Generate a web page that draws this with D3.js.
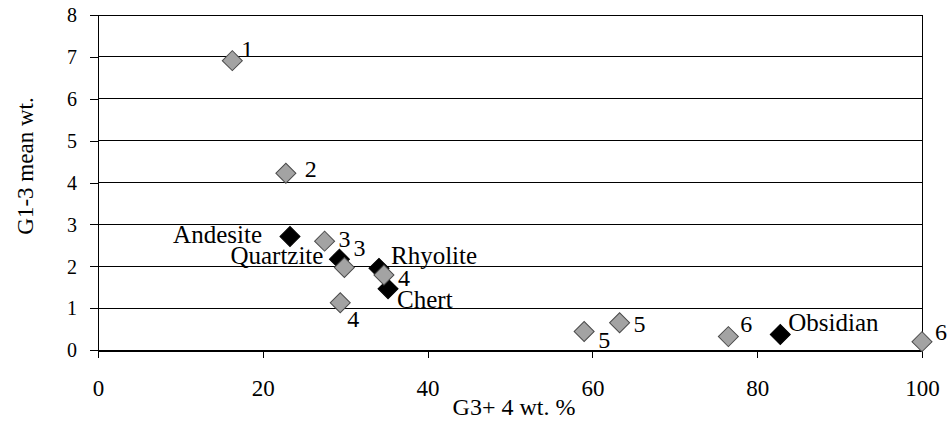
<!DOCTYPE html>
<html>
<head>
<meta charset="UTF-8" />
<title>G1-3 mean wt. vs G3+4 wt. %</title>
<style>
	html, body { margin: 0; padding: 0; background: #fff; overflow: hidden; }
	.grid line { stroke: #000; stroke-width: 1; shape-rendering: crispEdges; }
	.axis path, .axis line { stroke: #000; shape-rendering: crispEdges; }
</style>
<script src="https://d3js.org/d3.v7.min.js"></script>
</head>
<body>
<svg id="chart"></svg>
<script>
// grain-size class points (grey)
const grainLabels = ['1', '2', '3', '3', '4', '4', '5', '5', '6', '6'];
const grainX = [16.3, 22.8, 27.5, 29.9, 34.7, 29.4, 59.0, 63.3, 76.5, 100];
const grainY = [6.91, 4.22, 2.60, 1.97, 1.79, 1.13, 0.44, 0.65, 0.32, 0.20];

// raw material points (black)
const rockNames = ['Andesite', 'Quartzite', 'Rhyolite', 'Chert', 'Obsidian'];
const rockX = [23.3, 29.3, 34.1, 35.2, 82.8];
const rockY = [2.71, 2.17, 1.95, 1.46, 0.37];

const xTicks = [0, 20, 40, 60, 80, 100];
const yTicks = [0, 1, 2, 3, 4, 5, 6, 7, 8];

// label nudges (pixels), kept apart from the data
const grainLabelPos = [[9, -4], [19, 4], [14, 6], [9, -12], [14, 11], [7, 24], [14, 16], [14, 9], [12, -5], [13, -2]];
const rockLabelPos = [[-28, 6, 'end'], [-16, 5, 'end'], [12, -4, 'start'], [9, 19, 'start'], [8, -4, 'start']];

const FONT = 'Liberation Serif';

const width = 950, height = 423;
const margin = {top: 15, right: 28, bottom: 73, left: 98};

const svg = d3.select('#chart').attr('width', width).attr('height', height);

const x = d3.scaleLinear().domain([0, 100]).range([margin.left, width - margin.right]);
const y = d3.scaleLinear().domain([0, 8]).range([height - margin.bottom, margin.top]);

// horizontal gridlines + right border
svg.append('g').attr('class', 'grid')
	.selectAll('line').data(yTicks.slice(1)).enter().append('line')
	.attr('x1', x(0)).attr('x2', x(100))
	.attr('y1', d => y(d)).attr('y2', d => y(d));
svg.append('g').attr('class', 'grid').append('line')
	.attr('x1', x(100)).attr('x2', x(100))
	.attr('y1', y(8)).attr('y2', y(0));

// axes
const xAxis = svg.append('g').attr('class', 'axis')
	.attr('transform', `translate(0,${y(0)})`)
	.call(d3.axisBottom(x).tickValues(xTicks).tickSize(8).tickSizeOuter(0));
xAxis.select('.domain').attr('stroke-width', 2);
xAxis.selectAll('text')
	.style('font-family', FONT).style('font-size', '23px')
	.attr('dy', 0).attr('y', 46);

const yAxis = svg.append('g').attr('class', 'axis')
	.attr('transform', `translate(${x(0)},0)`)
	.call(d3.axisLeft(y).tickValues(yTicks).tickSize(8).tickSizeOuter(0));
yAxis.selectAll('text')
	.style('font-family', FONT).style('font-size', '20px')
	.attr('x', -21).attr('dy', '0.34em');

// axis titles
svg.append('text')
	.attr('x', (x(0) + x(100)) / 2 + 4).attr('y', 415)
	.attr('text-anchor', 'middle')
	.style('font-family', FONT).style('font-size', '24px')
	.text('G3+ 4 wt. %');
svg.append('text')
	.attr('transform', `translate(33,166) rotate(-90)`)
	.attr('text-anchor', 'middle')
	.style('font-family', FONT).style('font-size', '23px')
	.text('G1-3 mean wt.');

const diamond = d3.symbol().type(d3.symbolSquare).size(200);

// black points
const rocks = rockNames.map((n, i) => ({name: n, x: rockX[i], y: rockY[i], pos: rockLabelPos[i]}));
svg.append('g').selectAll('path').data(rocks).enter().append('path')
	.attr('d', diamond)
	.attr('transform', d => `translate(${x(d.x)},${y(d.y)}) rotate(45)`)
	.attr('fill', '#000').attr('stroke', '#000').attr('stroke-width', 1);

// grey points
const grains = grainLabels.map((l, i) => ({label: l, x: grainX[i], y: grainY[i], pos: grainLabelPos[i]}));
svg.append('g').selectAll('path').data(grains).enter().append('path')
	.attr('d', diamond)
	.attr('transform', d => `translate(${x(d.x)},${y(d.y)}) rotate(45)`)
	.attr('fill', '#a3a3a3').attr('stroke', '#4a4a4a').attr('stroke-width', 1);

// labels
svg.append('g').selectAll('text').data(grains).enter().append('text')
	.attr('x', d => x(d.x) + d.pos[0]).attr('y', d => y(d.y) + d.pos[1])
	.style('font-family', FONT).style('font-size', '24px')
	.text(d => d.label);
svg.append('g').selectAll('text').data(rocks).enter().append('text')
	.attr('x', d => x(d.x) + d.pos[0]).attr('y', d => y(d.y) + d.pos[1])
	.attr('text-anchor', d => d.pos[2])
	.style('font-family', FONT).style('font-size', '25px')
	.text(d => d.name);
</script>
</body>
</html>
